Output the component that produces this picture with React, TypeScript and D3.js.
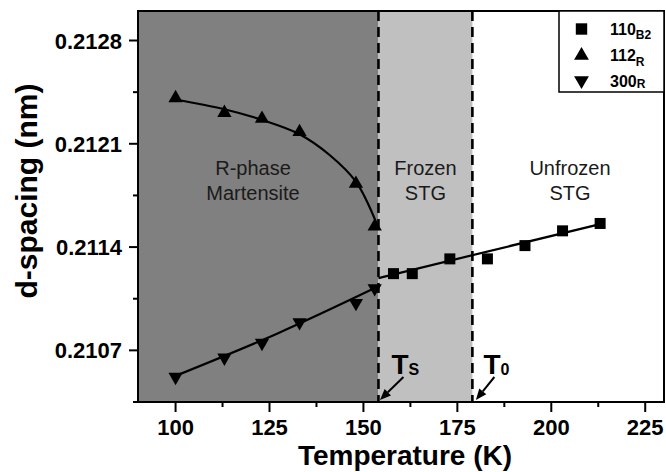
import React from "react";
import * as d3 from "d3";

// ---- data ----
const T_B2 = [158, 163, 173, 183, 193, 203, 213];
const d_B2 = [0.21122, 0.21122, 0.21132, 0.21132, 0.21141, 0.21151, 0.21156];
const T_R = [100, 113, 123, 133, 148, 153];
const d_112R = [0.21241, 0.21231, 0.21227, 0.21218, 0.21183, 0.21154];
const d_300R = [0.21052, 0.21065, 0.21075, 0.21089, 0.21102, 0.21112];

// fitted curves
const fit112_T = [100, 113, 123, 133, 141, 148, 153.5];
const fit112_d = [0.2124, 0.212334, 0.212262, 0.212165, 0.212024, 0.211843, 0.21156];
const fit300_T = [100, 127, 154];
const fit300_d = [0.210527, 0.210813, 0.211134];
const fitB2_T = [154, 213];
const fitB2_d = [0.21119, 0.211556];

const Ts = 154;
const T0 = 179;

const xTicks = [100, 125, 150, 175, 200, 225];
const xMinor = [112.5, 137.5, 162.5, 187.5, 212.5];
const yTicks = [0.2107, 0.2114, 0.2121, 0.2128];
const yMinor = [0.21105, 0.21175, 0.21245];

const FONT = "'Liberation Sans', Arial, sans-serif";

export default function App() {
  const x = d3.scaleLinear().domain([90, 230]).range([138, 664]);
  const y = d3.scaleLinear().domain([0.21035, 0.213]).range([402, 11]);
  const top = y(0.213);
  const bottom = y(0.21035);
  const left = x(90);
  const right = x(230);

  const line = (ts: number[], ds: number[], curve: any) =>
    d3
      .line<number>()
      .x((_, i) => x(ts[i]))
      .y((d) => y(d))
      .curve(curve)(ds) || "";

  const sq = d3.symbol(d3.symbolSquare, 121)() || "";
  const tri = d3.symbol(d3.symbolTriangle, 88)() || "";
  const sqL = d3.symbol(d3.symbolSquare, 130)() || "";
  const triL = d3.symbol(d3.symbolTriangle, 95)() || "";

  const arrow = (x1: number, y1: number, x2: number, y2: number) => {
    const ang = Math.atan2(y2 - y1, x2 - x1);
    const L = 11, W = 4.5;
    const bx = x2 - L * Math.cos(ang), by = y2 - L * Math.sin(ang);
    const px = -Math.sin(ang) * W, py = Math.cos(ang) * W;
    return (
      <g>
        <line x1={x1} y1={y1} x2={bx} y2={by} stroke="#000" strokeWidth={2} />
        <polygon points={`${x2},${y2} ${bx + px},${by + py} ${bx - px},${by - py}`} fill="#000" />
      </g>
    );
  };

  return (
    <svg width={666} height={472} style={{ position: "absolute", left: 0, top: 0, background: "#fff" }} fontFamily={FONT}>
      {/* shaded regions */}
      <rect x={left} y={top} width={x(Ts) - left} height={bottom - top} fill="#808080" />
      <rect x={x(Ts)} y={top} width={x(T0) - x(Ts)} height={bottom - top} fill="#c0c0c0" />

      {/* region labels */}
      <g fontSize={20} fill="#1a1a1a" textAnchor="middle">
        <text x={253} y={175}>R-phase</text>
        <text x={253} y={200}>Martensite</text>
        <text x={(x(Ts) + x(T0)) / 2} y={175}>Frozen</text>
        <text x={(x(Ts) + x(T0)) / 2} y={200}>STG</text>
        <text x={570} y={175}>Unfrozen</text>
        <text x={570} y={200}>STG</text>
      </g>

      {/* dashed lines */}
      {[Ts, T0].map((t) => (
        <line key={t} x1={x(t)} x2={x(t)} y1={top} y2={bottom} stroke="#000" strokeWidth={2.6} strokeDasharray="10,6" />
      ))}

      {/* fit curves */}
      <path d={line(fit112_T, fit112_d, d3.curveCatmullRom.alpha(0.5))} fill="none" stroke="#000" strokeWidth={2.2} />
      <path d={line(fit300_T, fit300_d, d3.curveCatmullRom.alpha(0.5))} fill="none" stroke="#000" strokeWidth={2.2} />
      <path d={line(fitB2_T, fitB2_d, d3.curveLinear)} fill="none" stroke="#000" strokeWidth={2.2} />

      {/* markers */}
      {T_B2.map((t, i) => (
        <path key={"b" + i} d={sq} transform={`translate(${x(t)},${y(d_B2[i])})`} fill="#000" />
      ))}
      {T_R.map((t, i) => (
        <path key={"u" + i} d={tri} transform={`translate(${x(t)},${y(d_112R[i])})`} fill="#000" />
      ))}
      {T_R.map((t, i) => (
        <path key={"d" + i} d={tri} transform={`translate(${x(t)},${y(d_300R[i])}) rotate(180)`} fill="#000" />
      ))}

      {/* Ts / T0 labels */}
      <text x={x(Ts) + 13} y={374} fontSize={28} fontWeight="bold">
        T<tspan fontSize={16} dy={1}>S</tspan>
      </text>
      <text x={x(T0) + 11} y={374} fontSize={28} fontWeight="bold">
        T<tspan fontSize={16} dy={1}>0</tspan>
      </text>
      {arrow(x(Ts) + 25, 377, x(Ts) + 1.5, 400)}
      {arrow(x(T0) + 22, 377, x(T0) + 3.5, 400)}

      {/* frame */}
      <rect x={left} y={top} width={right - left} height={bottom - top} fill="none" stroke="#000" strokeWidth={2} />
      <line x1={left - 5} x2={right} y1={bottom} y2={bottom} stroke="#000" strokeWidth={2} />

      {/* x ticks */}
      {xTicks.map((t) => (
        <g key={"xt" + t}>
          <line x1={x(t)} x2={x(t)} y1={bottom} y2={bottom + 10} stroke="#000" strokeWidth={2} />
          <text x={x(t)} y={435} fontSize={22} fontWeight="bold" textAnchor="middle">{t}</text>
        </g>
      ))}
      {xMinor.map((t) => (
        <line key={"xm" + t} x1={x(t)} x2={x(t)} y1={bottom} y2={bottom + 5} stroke="#000" strokeWidth={2} />
      ))}

      {/* y ticks */}
      {yTicks.map((t) => (
        <g key={"yt" + t}>
          <line x1={left - 9} x2={left} y1={y(t)} y2={y(t)} stroke="#000" strokeWidth={2} />
          <text x={122} y={y(t) + 8} fontSize={22} fontWeight="bold" textAnchor="end">{t.toFixed(4)}</text>
        </g>
      ))}
      {yMinor.map((t) => (
        <line key={"ym" + t} x1={left - 5} x2={left} y1={y(t)} y2={y(t)} stroke="#000" strokeWidth={2} />
      ))}

      {/* axis titles */}
      <text x={405} y={465} fontSize={28} fontWeight="bold" textAnchor="middle">Temperature (K)</text>
      <text transform="translate(37,191) rotate(-90)" fontSize={30} fontWeight="bold" textAnchor="middle">d-spacing (nm)</text>

      {/* legend */}
      <rect x={559} y={top} width={right - 559} height={92 - top} fill="#fff" stroke="#000" strokeWidth={1.5} />
      <path d={sqL} transform="translate(581.5,29)" fill="#000" />
      <path d={triL} transform="translate(581.5,55.5)" fill="#000" />
      <path d={triL} transform="translate(581.5,80.5) rotate(180)" fill="#000" />
      <g fontSize={16} fontWeight="bold">
        <text x={610} y={35}>110<tspan fontSize={12} dy={4}>B2</tspan></text>
        <text x={610} y={61}>112<tspan fontSize={12} dy={5}>R</tspan></text>
        <text x={610} y={87}>300<tspan fontSize={12} dy={1}>R</tspan></text>
      </g>
    </svg>
  );
}
